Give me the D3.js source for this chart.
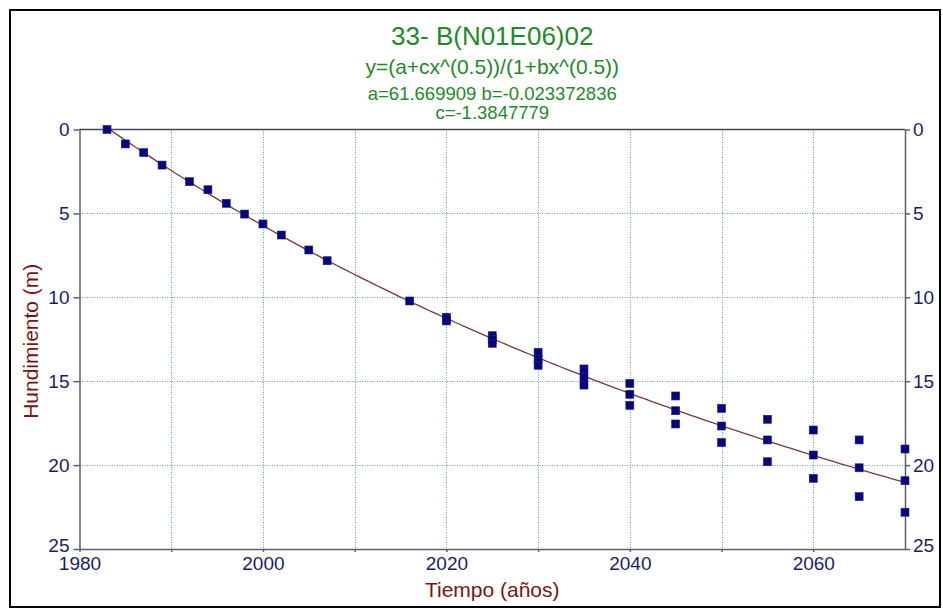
<!DOCTYPE html>
<html>
<head>
<meta charset="utf-8">
<script src="https://cdn.jsdelivr.net/npm/d3@7"></script>
<style>
  html, body { margin: 0; padding: 0; background: #fff; }
  svg { display: block; }
  text { font-family: "Liberation Sans", Arial, sans-serif; }
</style>
</head>
<body>
<svg id="chart" width="943" height="610"></svg>
<script>
// Fitted model y = (a + c*x^0.5) / (1 + b*x^0.5)
const paramA = 61.669909;
const paramB = -0.023372836;
const paramC = -1.3847779;

// Measured subsidence (m)
const measuredYears  = [1983, 1985, 1987, 1989, 1992, 1994, 1996, 1998, 2000, 2002, 2005, 2007, 2016];
const measuredValues = [0, 0.86, 1.38, 2.12, 3.11, 3.59, 4.40, 5.04, 5.63, 6.29, 7.18, 7.82, 10.22];

// Projected subsidence: lower, central and upper estimate per year
const projYears = [2020, 2025, 2030, 2035, 2040, 2045, 2050, 2055, 2060, 2065, 2070];
const projLow   = [11.19, 12.29, 13.28, 14.27, 15.13, 15.88, 16.62, 17.27, 17.91, 18.50, 19.04];
const projMid   = [11.30, 12.52, 13.67, 14.75, 15.78, 16.76, 17.67, 18.50, 19.40, 20.16, 20.93];
const projHigh  = [11.41, 12.74, 14.05, 15.23, 16.44, 17.55, 18.66, 19.80, 20.79, 21.88, 22.81];

// Axis ticks
const yTicks = [0, 5, 10, 15, 20, 25];
const xTicks = [1980, 1990, 2000, 2010, 2020, 2030, 2040, 2050, 2060];
const xTickLabels = [1980, 2000, 2020, 2040, 2060];

const titleText = "33- B(N01E06)02";
const formulaText = "y=(a+cx^(0.5))/(1+bx^(0.5))";
const xTitle = "Tiempo (años)";
const yTitle = "Hundimiento (m)";

const svg = d3.select("#chart");
const plotLeft = 79.5, plotRight = 905, plotTop = 129.5, plotBottom = 549;

const x = d3.scaleLinear().domain([1980, 2070]).range([plotLeft, plotRight]);
const y = d3.scaleLinear().domain([0, 25]).range([plotTop, plotBottom]);

const axisColor = "#5e5e70";
const labelColor = "#1c1c6a";
const gridColor = "#6c9ea6";

// outer frame
svg.append("rect")
  .attr("x", 10).attr("y", 10).attr("width", 930).attr("height", 597)
  .attr("fill", "#fff").attr("stroke", "#000").attr("stroke-width", 2);

// grid
const grid = svg.append("g").attr("stroke", gridColor).attr("stroke-width", 1)
  .attr("stroke-dasharray", "1,1.5");
grid.selectAll("line.h").data(yTicks.filter(d => d > 0 && d < 25)).join("line")
  .attr("class", "h")
  .attr("x1", plotLeft).attr("x2", plotRight)
  .attr("y1", d => Math.round(y(d)) + 0.5).attr("y2", d => Math.round(y(d)) + 0.5);
grid.selectAll("line.v").data(xTicks.filter(d => d > 1980)).join("line")
  .attr("class", "v")
  .attr("y1", plotTop).attr("y2", plotBottom)
  .attr("x1", d => Math.round(x(d)) + 0.5).attr("x2", d => Math.round(x(d)) + 0.5);

// fitted curve
const model = t => (paramA + paramC * Math.sqrt(t)) / (1 + paramB * Math.sqrt(t));
const curveYears = d3.range(1983, 2070.001, 0.5);
svg.append("path")
  .datum(curveYears)
  .attr("fill", "none")
  .attr("stroke", "#7a3a3a")
  .attr("stroke-width", 1.3)
  .attr("d", d3.line().x(d => x(d)).y(d => y(model(d))));

// axes
function styleAxis(g) {
  g.selectAll("path, line").attr("stroke", axisColor).attr("stroke-width", 1.5);
  g.selectAll("text").attr("fill", labelColor).attr("font-size", 19)
    .attr("font-family", "'Liberation Sans', Arial, sans-serif");
}
// the bottom value label sits a little above its tick, clear of the year labels
function liftBottomLabel(g) {
  g.selectAll(".tick text").filter(d => d === 25).attr("dy", "0.12em");
}

svg.append("g").attr("transform", `translate(${plotLeft},0)`)
  .call(d3.axisLeft(y).tickValues(yTicks).tickSize(6).tickSizeOuter(0).tickPadding(4))
  .call(styleAxis)
  .call(liftBottomLabel);

svg.append("g").attr("transform", `translate(${plotRight},0)`)
  .call(d3.axisRight(y).tickValues(yTicks).tickSize(5).tickSizeOuter(0).tickPadding(3))
  .call(styleAxis)
  .call(liftBottomLabel);

svg.append("g").attr("transform", `translate(0,${plotBottom})`)
  .call(d3.axisBottom(x).tickValues(xTicks).tickSize(3).tickSizeOuter(0).tickPadding(5)
    .tickFormat(d => xTickLabels.includes(d) ? d : ""))
  .call(styleAxis);

svg.append("line")
  .attr("x1", plotLeft).attr("x2", plotRight).attr("y1", plotTop).attr("y2", plotTop)
  .attr("stroke", "#45455a").attr("stroke-width", 1.5);

// points
const points = measuredYears.map((t, i) => ({ t, v: measuredValues[i] }));
projYears.forEach((t, i) => {
  points.push({ t, v: projLow[i] }, { t, v: projMid[i] }, { t, v: projHigh[i] });
});
const s = 8;
svg.append("g").selectAll("rect").data(points).join("rect")
  .attr("x", d => x(d.t) - s / 2).attr("y", d => y(d.v) - s / 2)
  .attr("width", s).attr("height", s)
  .attr("fill", "#06067a").attr("stroke", "#1e1e8c").attr("stroke-width", 0.6);

// titles
const titles = svg.append("g").attr("fill", "#1e8a2a").attr("text-anchor", "middle");
const cx = (plotLeft + plotRight) / 2;
titles.append("text").attr("x", cx).attr("y", 45).attr("font-size", 26).text(titleText);
titles.append("text").attr("x", cx).attr("y", 74).attr("font-size", 21).text(formulaText);
titles.append("text").attr("x", cx).attr("y", 100).attr("font-size", 18.5)
  .text(`a=${paramA} b=${paramB}`);
titles.append("text").attr("x", cx).attr("y", 119).attr("font-size", 18.5)
  .text(`c=${paramC}`);

svg.append("text").attr("x", cx).attr("y", 597).attr("text-anchor", "middle")
  .attr("font-size", 21).attr("fill", "#7a1414").text(xTitle);

svg.append("text").attr("transform", `translate(38,${(plotTop + plotBottom) / 2 + 2}) rotate(-90)`)
  .attr("text-anchor", "middle").attr("font-size", 21).attr("fill", "#7a1414").text(yTitle);
</script>
</body>
</html>
